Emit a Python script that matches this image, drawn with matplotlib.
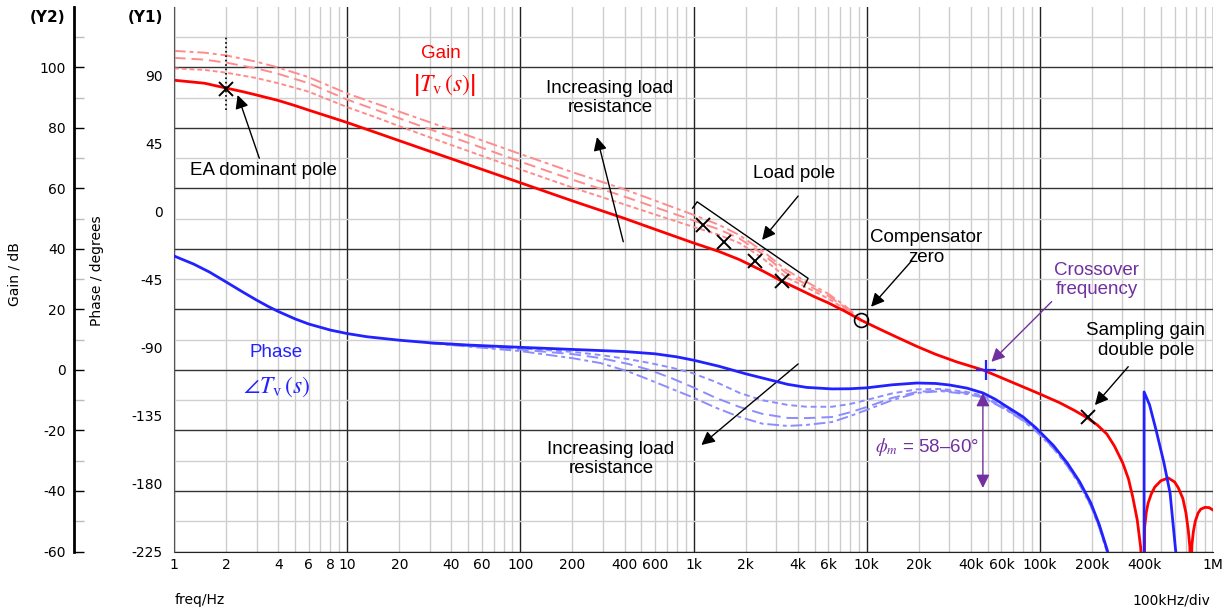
import numpy as np
import matplotlib.pyplot as plt
from matplotlib.ticker import FixedLocator, FuncFormatter

plt.rcParams['font.family'] = 'DejaVu Sans'
plt.rcParams['mathtext.fontset'] = 'stix'
plt.rcParams['axes.unicode_minus'] = False

# ---- data ----
# loop gain, solid curve (Hz, dB)
gain_f = [1, 1.5, 2, 2.5, 3, 4, 5, 6, 8, 10, 15, 20, 30, 50, 70, 100, 200, 391, 600, 1000,
          1400, 1840, 2500, 3230, 4000, 5000, 6000, 7500, 9260, 12000, 15000, 19500, 25000,
          33000, 47000, 65000, 97000, 130000, 160000, 189000, 215000, 244000, 270000, 301000,
          325000, 344000, 365000, 382000, 396000, 400000, 403000, 412000, 422000, 440000,
          461000, 500000, 552000, 600000, 631000, 670000, 698000, 720000, 735000, 745000,
          755000, 770000, 790000, 820000, 850000, 900000, 950000, 1000000]
gain_db = [95.8, 94.8, 93.2, 92.0, 90.9, 89.1, 87.4, 85.9, 83.6, 81.8, 78.3, 75.8, 72.3, 67.9, 65.0,
           61.9, 55.9, 50.3, 46.5, 42.0, 39.2, 36.5, 32.8, 29.4, 26.9, 24.2, 22.2, 19.4, 16.5, 13.4,
           10.8, 7.8, 5.2, 2.7, 0.0, -3.4, -7.6, -10.8, -13.5, -15.9, -18.2, -21.2, -25.2, -30.7,
           -36.0, -42.0, -49.5, -58.5, -72, -80, -52, -47, -44.0, -41.0,
           -38.7, -36.6, -35.7, -37.0, -39.0, -42.5, -47.3, -53, -58.5, -75,
           -58.0, -53.5, -50.0, -47.3, -46.0, -45.4, -45.5, -46.3]

# gain for other load resistances (dashed)
gain_alt_f = [1, 1.5, 2, 3, 4, 6, 10, 15, 20, 30, 50, 100, 200, 391, 600, 1000, 1400, 1840,
              2500, 3400, 4500, 6000, 7500, 9300]
gain_alt1 = [105.5, 104.9, 104.0, 101.9, 100.0, 96.8, 91.4, 87.9, 85.4, 81.9, 77.5, 71.4, 65.4,
             59.9, 56.0, 51.3, 48.0, 44.6, 39.4, 33.2, 29.1, 25.2, 21.2, 16.6]
gain_alt2 = [103.2, 102.6, 101.6, 99.7, 97.9, 94.8, 89.4, 85.8, 83.2, 79.6, 75.1, 68.9, 62.9,
             57.5, 53.8, 49.4, 46.5, 43.5, 38.4, 32.2, 28.2, 24.5, 20.7, 16.6]
gain_alt3 = [99.7, 99.2, 98.3, 96.5, 94.8, 92.0, 86.9, 83.3, 80.6, 76.9, 72.4, 66.3, 60.3,
             54.9, 51.4, 47.3, 44.7, 42.0, 37.0, 30.8, 27.3, 23.6, 20.2, 16.6]

# loop phase, solid curve (Hz, degrees)
phase_f = [1, 1.3, 1.6, 2, 2.5, 3, 3.5, 4, 5, 6, 8, 10, 13, 20, 30, 50, 100, 200, 400, 600,
           800, 1000, 1400, 2000, 2870, 3500, 4500, 6300, 8000, 10000, 14000, 19500, 25000,
           30000, 38000, 47000, 55000, 64000, 80000, 95000, 120000, 144000, 170000, 197000,
           220000, 245000, 260000, 400000, 400000, 430000, 469000, 520000, 565000, 608000, 640000]
phase_deg = [-29.6, -35.0, -40.2, -46.8, -53.5, -58.8, -63.0, -66.3, -71.2, -74.6, -78.6, -80.9,
             -83.0, -85.3, -87.0, -88.5, -90.0, -91.4, -92.8, -94.3, -96.3, -98.5, -102.5, -107.5,
             -112.0, -114.5, -116.5, -117.5, -117.4, -116.8, -114.8, -113.6, -113.9, -114.9,
             -117.0, -120.2, -124.2, -129.0, -136.0, -143.3, -155.0, -166.5, -179.0, -192.9,
             -207.0, -224.0, -235.0, -240.0, -119.5, -128.0, -144.7, -166.0, -186.3, -224.0, -240.0]

# phase for other load resistances (dashed)
phase_alt_f = [30, 100, 200, 290, 420, 560, 750, 982, 1350, 1850, 2500, 3500, 4500, 6300,
               8000, 10000, 14000, 19500, 27000, 37900, 47000, 64000, 80000, 95000, 120000,
               144000, 170000, 197000, 220000, 245000, 260000]
phase_alt1 = [-87.1, -90.7, -93.0, -95.1, -97.8, -100.4, -103.5, -107.0, -113.0, -120.2, -125.0,
              -128.1, -129.3, -129.3, -127.5, -124.8, -120.5, -117.8, -117.5, -119.5, -122.0,
              -130.5, -137.5, -144.5, -156.0, -167.5, -180.0, -194.0, -208.0, -225.0, -236.0]
phase_alt2 = [-87.2, -91.5, -94.5, -97.1, -101.0, -105.0, -110.5, -116.2, -123.5, -129.5, -134.0,
              -136.7, -136.8, -136.1, -133.0, -129.5, -123.5, -119.5, -118.5, -120.2, -122.7,
              -131.0, -138.0, -145.0, -156.5, -168.0, -180.5, -194.5, -208.5, -225.5, -236.0]
phase_alt3 = [-87.3, -92.5, -97.2, -100.4, -106.0, -111.6, -117.5, -122.9, -130.0, -136.1, -140.5,
              -142.0, -141.3, -139.4, -135.5, -131.4, -125.0, -120.2, -119.0, -120.9, -123.2,
              -131.4, -138.5, -145.5, -157.0, -168.5, -181.0, -195.0, -209.0, -226.0, -236.0]

# marked points (Hz, dB)
ea_pole = (2, 92.9)
load_pole_f = [1129, 1500, 2270, 3230]
load_pole_db = [47.9, 42.4, 36.1, 29.4]
comp_zero = (9260, 16.5)
crossover = (48800, 0.0)
samp_pole = (189000, -15.5)

x_tick_vals = [1, 2, 4, 6, 8, 10, 20, 40, 60, 100, 200, 400, 600, 1000, 2000, 4000, 6000,
               10000, 20000, 40000, 60000, 100000, 200000, 400000, 1000000]
x_tick_labels = ['1', '2', '4', '6', '8', '10', '20', '40', '60', '100', '200', '400', '600',
                 '1k', '2k', '4k', '6k', '10k', '20k', '40k', '60k', '100k', '200k', '400k', '1M']

RED = '#FF0000'
LRED = '#FF8C8C'
BLUE = '#2222FF'
LBLUE = '#8C8CFF'
PURPLE = '#7030A0'
ANN = 'Liberation Sans'

W, H = 1228, 611
L, R, T, B = 174, 1213, 7, 551.5

fig = plt.figure(figsize=(W / 100, H / 100), dpi=100)
ax = fig.add_axes([L / W, 1 - B / H, (R - L) / W, (B - T) / H])
ax.set_xscale('log')
ax.set_xlim(1, 1e6)
ax.set_ylim(-60, 120)

# x grid / ticks
ax.xaxis.set_major_locator(FixedLocator([10 ** k for k in range(7)]))
ax.xaxis.set_minor_locator(FixedLocator([m * 10 ** k for k in range(6) for m in range(2, 10)]))
lab = {int(round(v)): s for v, s in zip(x_tick_vals, x_tick_labels)}
fmt = FuncFormatter(lambda v, p: lab.get(int(round(v)), ''))
ax.xaxis.set_major_formatter(fmt)
ax.xaxis.set_minor_formatter(fmt)
ax.tick_params(axis='x', which='both', length=0, pad=5, labelsize=10)
ax.grid(True, which='major', axis='x', color='#222222', lw=1)
ax.grid(True, which='minor', axis='x', color='#cccccc', lw=1)

# gain axis (Y2), spine moved out
ax.set_yticks(range(-60, 101, 20))
ax.set_yticks(range(-50, 121, 20), minor=True)
ax.grid(True, which='major', axis='y', color='#333333', lw=1)
ax.grid(True, which='minor', axis='y', color='#d0d0d0', lw=1)
ax.set_axisbelow(True)
ax.spines['left'].set_position(('axes', (74 - L) / (R - L)))
ax.spines['left'].set_linewidth(2)
ax.spines['top'].set_visible(False)
ax.spines['right'].set_visible(False)
ax.spines['bottom'].set_color('#222222')
ax.tick_params(axis='y', which='major', direction='in', length=7, width=1, color='k', pad=6, labelsize=10)
ax.tick_params(axis='y', which='minor', direction='in', length=7, width=1, color='#bbbbbb')

# phase axis (Y1)
ax2 = ax.twinx()
ax2.set_ylim(-225, 135)
ax2.yaxis.set_ticks_position('left')
ax2.spines['left'].set_position(('axes', 0))
ax2.spines['left'].set_visible(True)
ax2.spines['left'].set_color('#555555')
for s in ['top', 'right', 'bottom']:
    ax2.spines[s].set_visible(False)
ax2.set_yticks(range(-225, 91, 45))
ax2.set_yticks([90], minor=True)
ax2.tick_params(axis='y', which='major', length=0, pad=8, labelsize=10)
ax2.tick_params(axis='y', which='minor', direction='inout', length=14, width=1, color='#555555')

# gain curves
ax.plot(gain_alt_f, gain_alt1, color=LRED, lw=1.4, ls=(0, (6, 2, 2, 2)), zorder=3)
ax.plot(gain_alt_f, gain_alt2, color=LRED, lw=1.4, ls=(0, (6, 3)), zorder=3)
ax.plot(gain_alt_f, gain_alt3, color=LRED, lw=1.4, ls=(0, (2.5, 1.5)), zorder=3)
ax.plot(gain_f, gain_db, color=RED, lw=2, zorder=4)

# phase curves
ax2.plot(phase_alt_f, phase_alt1, color=LBLUE, lw=1.4, ls=(0, (3, 2)), zorder=3)
ax2.plot(phase_alt_f, phase_alt2, color=LBLUE, lw=1.4, ls=(0, (6, 3)), zorder=3)
ax2.plot(phase_alt_f, phase_alt3, color=LBLUE, lw=1.4, ls=(0, (6, 2, 2, 2)), zorder=3)
ax2.plot(phase_f, phase_deg, color=BLUE, lw=2, zorder=4)

# markers
td = ax.transData
ax2.plot([ea_pole[0], ea_pole[0]], [86, 110], color='k', ls=':', lw=1.2, transform=td)
ax2.plot(*ea_pole, 'x', color='k', ms=10, mew=1.4, transform=td)
ax2.plot(load_pole_f, load_pole_db, 'x', color='k', ms=10, mew=1.4, ls='none', transform=td)
ax2.plot([988, 1050, 4590, 4340], [53.5, 55.6, 30.3, 27.5], color='k', lw=1, transform=td)
ax2.plot(*comp_zero, 'o', mfc='none', mec='k', ms=10, mew=1.2, transform=td)
ax2.plot(*crossover, '+', color=BLUE, ms=15, mew=1.6, transform=td)
ax2.plot(*samp_pole, 'x', color='k', ms=10, mew=1.4, transform=td)


def arrow(tail, tip, color='k', style='-|>'):
    ax2.annotate('', xy=tip, xytext=tail, xycoords=td, textcoords=td,
                 arrowprops=dict(arrowstyle=style, color=color, lw=1, shrinkA=0, shrinkB=0,
                                 mutation_scale=20))


def label(x, y, s, color='k', size=13.5, **kw):
    ax2.text(x, y, s, transform=td, ha='center', va='center', color=color, fontsize=size,
             family=ANN, linespacing=1.2, **kw)


label(3.27, 66.1, 'EA dominant pole')
arrow((3.11, 70.0), (2.33, 90.9))
label(329, 89.9, 'Increasing load\nresistance')
arrow((393, 42.4), (277, 77.0))
label(3800, 65.1, 'Load pole')
arrow((4020, 57.5), (2490, 43.0))
label(22000, 40.5, 'Compensator\nzero')
arrow((18200, 36.1), (10600, 20.9))
label(213000, 29.8, 'Crossover\nfrequency', color=PURPLE)
arrow((117000, 22.6), (52500, 2.7), color=PURPLE)
label(409000, 9.75, 'Sampling gain\ndouble pole')
arrow((324000, 1.1), (208000, -11.6))
label(334, -29.4, 'Increasing load\nresistance')
arrow((4020, 2.0), (1110, -24.8))
arrow((46900, -7.6), (46900, -39.0), color=PURPLE, style='<|-|>')
label(22300, -25.5, r'$\phi_m$ = 58–60°', color=PURPLE)

label(34.8, 104.7, 'Gain', color=RED)
label(36.6, 94.2, r'$\left|T_{\mathrm{v}}\,\left(s\right)\right|$', color=RED, size=17)
label(3.88, 5.7, 'Phase', color=BLUE)
label(3.92, -5.7, r'$\angle T_{\mathrm{v}}\,\left(s\right)$', color=BLUE, size=17)

# outer labels
fig.text(48 / W, 1 - 17 / H, '(Y2)', ha='center', va='center', fontsize=11, fontweight='bold')
fig.text(145 / W, 1 - 17 / H, '(Y1)', ha='center', va='center', fontsize=11, fontweight='bold')
fig.text(15 / W, 1 - 274 / H, 'Gain / dB', rotation=90, ha='center', va='center', fontsize=10)
fig.text(97 / W, 1 - 271 / H, 'Phase / degrees', rotation=90, ha='center', va='center', fontsize=10)
fig.text(175 / W, 1 - 600 / H, 'freq/Hz', ha='left', va='center', fontsize=10)
fig.text(1210 / W, 1 - 600 / H, '100kHz/div', ha='right', va='center', fontsize=10)

fig.savefig('out.png', dpi=100)
